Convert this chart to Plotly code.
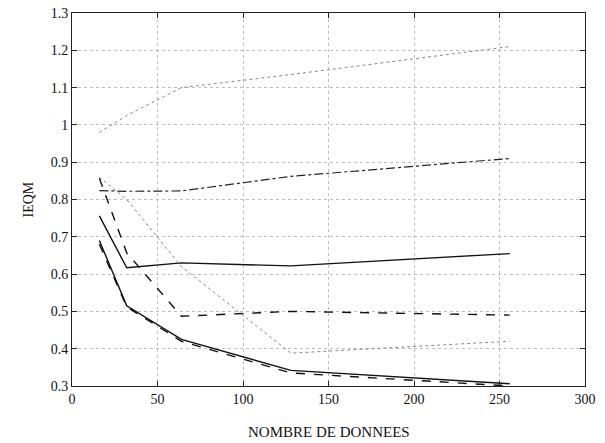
import plotly.graph_objects as go

x_n = [16, 32, 64, 128, 256]

dotted_top = [0.98, 1.025, 1.10, 1.135, 1.21]
dashdot = [0.824, 0.822, 0.823, 0.862, 0.91]
solid_upper = [0.756, 0.617, 0.63, 0.622, 0.655]
dashed_upper = [0.857, 0.657, 0.487, 0.50, 0.49]
dotted_mid = [0.86, 0.80, 0.62, 0.388, 0.42]
solid_lower = [0.69, 0.515, 0.425, 0.342, 0.306]
dashed_lower = [0.68, 0.512, 0.42, 0.335, 0.30]

x_ticks = [0, 50, 100, 150, 200, 250, 300]
y_ticks = [0.3, 0.4, 0.5, 0.6, 0.7, 0.8, 0.9, 1.0, 1.1, 1.2, 1.3]
y_tick_labels = ["0.3", "0.4", "0.5", "0.6", "0.7", "0.8", "0.9", "1", "1.1", "1.2", "1.3"]

series = [
    (dotted_top, "dot", "#888888", 1),
    (dashdot, "dashdot", "#222222", 1.2),
    (solid_upper, "solid", "#111111", 1.4),
    (dashed_upper, "dash", "#111111", 1.4),
    (dotted_mid, "dot", "#888888", 1),
    (solid_lower, "solid", "#111111", 1.4),
    (dashed_lower, "dash", "#111111", 1.4),
]

fig = go.Figure()
for ys, dash, color, w in series:
    fig.add_trace(go.Scatter(x=x_n, y=ys, mode="lines",
                             line=dict(color=color, width=w, dash=dash),
                             showlegend=False, hoverinfo="skip"))

font = "Liberation Serif, Times New Roman, serif"
axis_common = dict(ticks="inside", ticklen=5, tickcolor="#222222",
                   showgrid=True, gridcolor="#bdbdbd", griddash="dot", gridwidth=1,
                   showline=True, mirror="ticks", linecolor="#222222", linewidth=1,
                   zeroline=False, automargin=False,
                   tickfont=dict(family=font, size=14, color="#111111"))

fig.update_layout(
    width=605, height=443,
    margin=dict(l=72, r=20, t=13, b=57),
    paper_bgcolor="white", plot_bgcolor="white",
    font=dict(family=font, size=14, color="#111111"),
    xaxis=dict(range=[0, 300], tickvals=x_ticks, **axis_common),
    yaxis=dict(range=[0.3, 1.3], tickvals=y_ticks, ticktext=y_tick_labels,
               **axis_common),
    annotations=[
        dict(text="NOMBRE DE DONNEES", xref="paper", yref="paper",
             x=0.5, y=0, xanchor="center", yanchor="middle", yshift=-46,
             showarrow=False, font=dict(family=font, size=15, color="#111111")),
        dict(text="IEQM", xref="paper", yref="paper",
             x=0, y=0.5, xanchor="center", yanchor="middle", xshift=-44,
             textangle=-90, showarrow=False,
             font=dict(family=font, size=14, color="#111111")),
    ],
)

fig.write_html("out.html", config={"displayModeBar": False})

# remove the default page margin so the figure sits at the window's top-left corner
with open("out.html", "r", encoding="utf-8") as f:
    html = f.read()
html = html.replace("<body>", '<body style="margin:0;padding:0;overflow:hidden">', 1)
with open("out.html", "w", encoding="utf-8") as f:
    f.write(html)
